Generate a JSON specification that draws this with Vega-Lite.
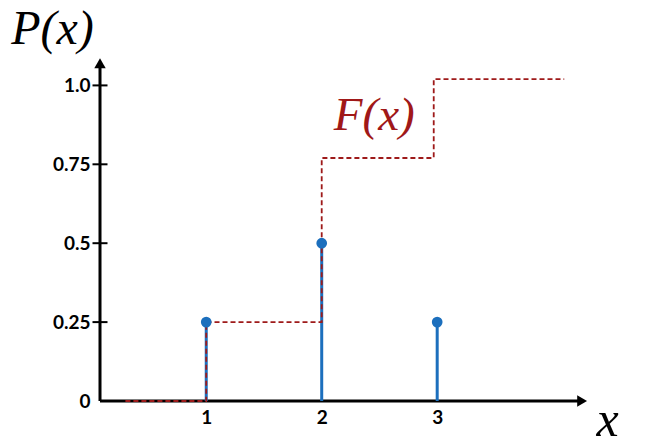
{
  "$schema": "https://vega.github.io/schema/vega-lite/v6.json",
  "width": 485,
  "height": 344,
  "autosize": "none",
  "padding": {"left": 100, "top": 57, "right": 65, "bottom": 46},
  "background": "white",
  "config": {"view": {"stroke": null}},
  "datasets": {
    "pmf": [{"x": 1, "y": 0.25}, {"x": 2, "y": 0.5}, {"x": 3, "y": 0.25}],
    "cdf": [{"x": 0.3, "y": 0}, {"x": 1, "y": 0.25}, {"x": 2, "y": 0.77}, {"x": 2.97, "y": 1.02}, {"x": 4.1, "y": 1.02}],
    "yticks": [{"x": 0.08, "y": 0.25}, {"x": 0.08, "y": 0.5}, {"x": 0.08, "y": 0.75}, {"x": 0.08, "y": 1.0}],
    "yaxis": [{"x": 0.08, "y": 0, "y2": 1.06}],
    "xaxis": [{"x": 0.08, "x2": 4.24, "y": 0}],
    "arrows": [{"x": 0.08, "y": 1.07, "dir": "up"}, {"x": 4.255, "y": 0, "dir": "right"}],
    "labels": [{"x": 2.455, "y": 0.858, "text": "F(x)"}]
  },
  "encoding": {
    "x": {
      "field": "x", "type": "quantitative",
      "scale": {"domain": [0.08, 4.28], "nice": false, "zero": false},
      "axis": {
        "values": [1, 2, 3], "domain": false, "ticks": false, "grid": false,
        "labelFont": "Lato", "labelFontWeight": "bold", "labelFontSize": 19, "labelColor": "black",
        "labelPadding": 7,
        "title": "x", "titleFont": "Liberation Serif", "titleFontStyle": "italic", "titleFontWeight": "normal",
        "titleFontSize": 50, "titleColor": "black", "titleAnchor": null, "titleAlign": "center",
        "titleBaseline": "alphabetic", "titleX": 507, "titleY": 34
      }
    },
    "y": {
      "field": "y", "type": "quantitative",
      "scale": {"domain": [0, 1.09], "nice": false},
      "axis": {
        "values": [0, 0.25, 0.5, 0.75, 1], "domain": false, "ticks": false, "grid": false,
        "labelExpr": "datum.value == 1 ? '1.0' : '' + datum.value",
        "labelFont": "Lato", "labelFontWeight": "bold", "labelFontSize": 19, "labelColor": "black",
        "labelPadding": 10,
        "title": "P(x)", "titleFont": "Liberation Serif", "titleFontStyle": "italic", "titleFontWeight": "normal",
        "titleFontSize": 48, "titleColor": "black", "titleAngle": 0, "titleAnchor": null, "titleAlign": "center",
        "titleBaseline": "alphabetic", "titleX": -48, "titleY": -14
      }
    }
  },
  "layer": [
    {
      "data": {"name": "yaxis"},
      "mark": {"type": "rule", "color": "black", "strokeWidth": 3},
      "encoding": {"y2": {"field": "y2"}}
    },
    {
      "data": {"name": "xaxis"},
      "mark": {"type": "rule", "color": "black", "strokeWidth": 3},
      "encoding": {"x2": {"field": "x2"}}
    },
    {
      "data": {"name": "yticks"},
      "mark": {"type": "tick", "orient": "horizontal", "color": "black", "thickness": 2, "size": 15, "opacity": 1}
    },
    {
      "data": {"name": "arrows"},
      "mark": {"type": "point", "filled": true, "color": "black", "opacity": 1, "size": 130},
      "encoding": {
        "shape": {"field": "dir", "type": "nominal", "scale": {"domain": ["up", "right"], "range": ["triangle-up", "triangle-right"]}, "legend": null}
      }
    },
    {
      "data": {"name": "pmf"},
      "mark": {"type": "rule", "color": "#1c6fbd", "strokeWidth": 3},
      "encoding": {"y2": {"datum": 0}}
    },
    {
      "data": {"name": "cdf"},
      "mark": {"type": "line", "interpolate": "step-after", "color": "#9e1a1a", "strokeWidth": 1.8, "strokeDash": [5, 3]}
    },
    {
      "data": {"name": "pmf"},
      "mark": {"type": "circle", "color": "#1c6fbd", "opacity": 1, "size": 115}
    },
    {
      "data": {"name": "labels"},
      "mark": {"type": "text", "font": "Liberation Serif", "fontStyle": "italic", "fontSize": 47, "color": "#a01818", "align": "center", "baseline": "alphabetic"},
      "encoding": {"text": {"field": "text"}}
    }
  ]
}
